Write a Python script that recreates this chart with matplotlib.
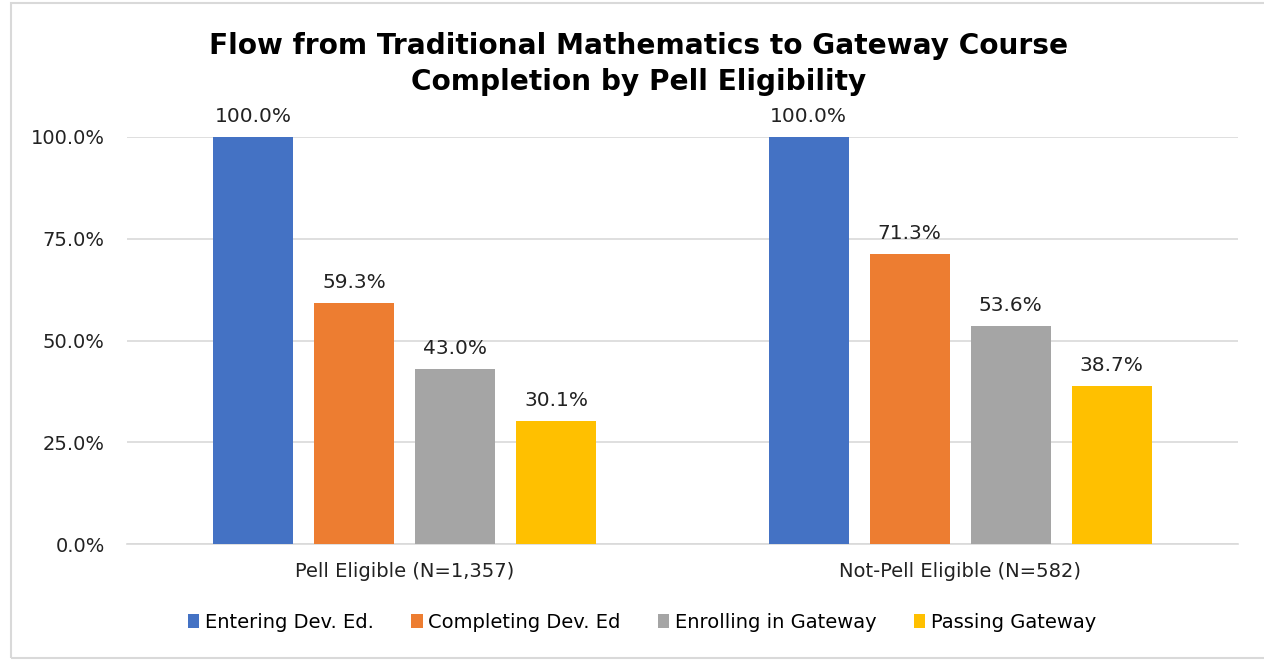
import numpy as np
import matplotlib.pyplot as plt
from matplotlib.patches import Rectangle
from matplotlib.ticker import FuncFormatter

# Data
groups = ["Pell Eligible (N=1,357)", "Not-Pell Eligible (N=582)"]
series = ["Entering Dev. Ed.", "Completing Dev. Ed", "Enrolling in Gateway", "Passing Gateway"]
entering = [100.0, 100.0]
completing = [59.3, 71.3]
enrolling = [43.0, 53.6]
passing = [30.1, 38.7]
colors = ["#4472C4", "#ED7D31", "#A5A5A5", "#FFC000"]

plt.rcParams['font.family'] = ['DejaVu Sans']

fig = plt.figure(figsize=(12.64, 6.6), dpi=100)
ax = fig.add_axes([127 / 1264, 1 - 544 / 660, 1111 / 1264, 407 / 660])

x = np.arange(len(groups))
width = 80 / 555.5
pitch = 101 / 555.5
values = [entering, completing, enrolling, passing]
for i, (name, vals, c) in enumerate(zip(series, values, colors)):
    pos = x + (i - 1.5) * pitch
    bars = ax.bar(pos, vals, width, color=c, label=name, zorder=3)
    for b, v in zip(bars, vals):
        ax.annotate(f"{v:.1f}%", (b.get_x() + b.get_width() / 2, v),
                    xytext=(0, 8), textcoords="offset points",
                    ha="center", va="bottom", fontsize=14.5, color="#222222")

ax.set_xlim(-0.5, 1.5)
ax.set_ylim(0, 100)
ax.set_yticks([0, 25, 50, 75, 100])
ax.yaxis.set_major_formatter(FuncFormatter(lambda v, p: f"{v:.1f}%"))
ax.set_xticks(x)
ax.set_xticklabels(groups)
ax.tick_params(axis="both", length=0, labelsize=14, colors="#222222")
ax.tick_params(axis="y", pad=16)
ax.tick_params(axis="x", pad=13)
ax.grid(axis="y", color="#d9d9d9", linewidth=1.2, zorder=0)
for s in ["top", "right", "left"]:
    ax.spines[s].set_visible(False)
ax.spines["bottom"].set_color("#d9d9d9")
ax.spines["bottom"].set_linewidth(1.2)

fig.text(639 / 1264, 1 - 64 / 660,
         "Flow from Traditional Mathematics to Gateway Course\nCompletion by Pell Eligibility",
         ha="center", va="center", fontsize=20.2, fontweight="bold",
         linespacing=1.38, color="black")

ax.legend(loc="center", bbox_to_anchor=((642 - 127) / 1111, -(622 - 544) / 407),
          ncol=4, frameon=False, fontsize=14, handlelength=0.6, handleheight=0.7,
          handletextpad=0.3, columnspacing=1.9)

# outer chart border
fig.patches.append(Rectangle((11 / 1264, 2 / 660), 1.1, 1 - 5 / 660,
                             transform=fig.transFigure, fill=False,
                             edgecolor="#d9d9d9", linewidth=1.5))

fig.savefig("out.png", dpi=100)
